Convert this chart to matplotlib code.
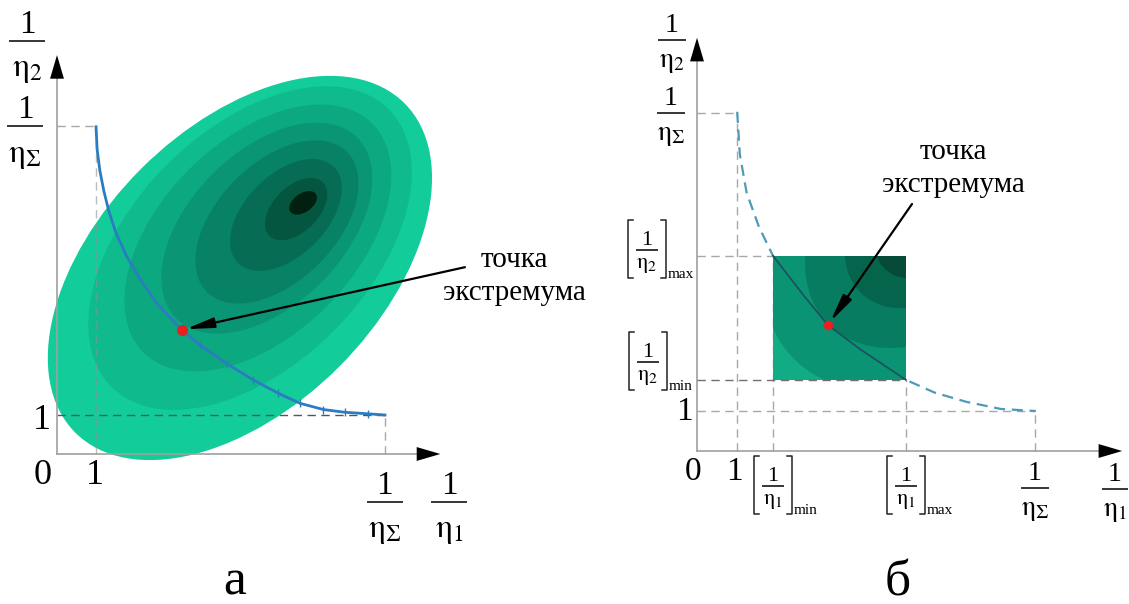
import matplotlib.pyplot as plt
from matplotlib.patches import Ellipse, Rectangle

plt.rcParams['font.family'] = ['Liberation Serif', 'DejaVu Serif']
plt.rcParams['mathtext.fontset'] = 'stix'

# ---- panel a: values in units of 1/eta ----
inv_sum_a = 8.4
curve_a_x = [1.0, 1.03, 1.10, 1.2, 1.32, 1.5, 1.79, 2.15, 2.56, 3.2, 3.67, 4.35, 5.03,
             5.67, 6.23, 6.83, 7.38, 7.98, 8.41]
curve_a_y = [8.39, 7.8, 7.26, 6.75, 6.26, 5.7, 5.06, 4.45, 3.86, 3.18, 2.79, 2.32, 1.90,
             1.56, 1.30, 1.14, 1.07, 1.03, 1.0]
tick_idx_a = [10, 11, 12, 13, 14, 15, 16, 17]
extremum_a = (3.2, 3.18)

# contour rings, outer -> inner
ring_cx = [4.69, 4.95, 5.15, 5.38, 5.64, 5.87, 6.13, 6.31]
ring_cy = [4.77, 5.28, 5.54, 5.79, 5.95, 6.13, 6.28, 6.44]
ring_a = [5.97, 5.03, 4.15, 3.28, 2.54, 1.74, 0.97, 0.40]
ring_b = [3.59, 3.02, 2.49, 1.97, 1.52, 1.04, 0.58, 0.24]
ring_colors = ["#12cc9a", "#0fbb8d", "#0ca880", "#0a9674", "#088265", "#066d54",
               "#045640", "#02200f"]

# ---- panel b ----
inv_sum_b = 8.45
curve_b_x = [1.005, 1.07, 1.24, 1.55, 1.9, 2.69, 3.27, 4.10, 5.22, 5.94, 6.73, 7.6, 8.47]
curve_b_y = [8.48, 7.42, 6.46, 5.60, 4.88, 3.86, 3.15, 2.53, 1.78, 1.46, 1.23, 1.05, 1.0]
x1_min, x1_max = 1.9, 5.22
x2_min, x2_max = 1.78, 4.88
extremum_b = (3.275, 3.15)

field_center = (5.7, 5.575)
field_a = [4.63, 3.41, 2.28, 1.43]
field_colors = ["#0a9474", "#077c61", "#05644c", "#044a37"]
field_base = "#11ab84"

axis_col = "#a0a0a0"
dash_col = "#a8a8a8"
dash = (0, (6, 4))


def frac_at(ax, k, x, y, sub, fs, bar, gn, gd):
    # k = pixels per data unit
    ax.plot([x - bar / 2 / k, x + bar / 2 / k], [y, y], color='black', lw=1.1,
            solid_capstyle='butt', clip_on=False)
    ax.text(x, y + gn / k, '1', fontsize=fs, ha='center', va='baseline')
    ax.text(x, y - gd / k, r'$\mathrm{\eta}_{%s}$' % sub, fontsize=fs, ha='center', va='top')


def bracket_at(ax, k, x, y, sub, lim):
    frac_at(ax, k, x, y, sub, 16, 22, 5, 6)
    hw, top, bot, t = 19 / k, 30 / k, 28 / k, 5 / k
    ax.plot([x - hw + t, x - hw, x - hw, x - hw + t], [y + top, y + top, y - bot, y - bot],
            color='#222222', lw=1.1)
    ax.plot([x + hw - t, x + hw, x + hw, x + hw - t], [y + top, y + top, y - bot, y - bot],
            color='#222222', lw=1.1)
    ax.text(x + hw + 2 / k, y - bot, lim, fontsize=11, ha='left', va='baseline')


def draw_axes(ax, xtip, ytip):
    ax.plot([0, xtip - 0.3], [0, 0], color=axis_col, lw=1.2, zorder=5)
    ax.plot([0, 0], [0, ytip - 0.3], color=axis_col, lw=1.2, zorder=5)
    head = dict(arrowstyle='-|>,head_length=0.85,head_width=0.25', color='black',
                lw=0, mutation_scale=20)
    ax.annotate('', xy=(xtip, 0), xytext=(xtip - 0.5, 0), arrowprops=head, zorder=6)
    ax.annotate('', xy=(0, ytip), xytext=(0, ytip - 0.5), arrowprops=head, zorder=6)


fig = plt.figure(figsize=(11.29, 6.04), dpi=100)

# ================= panel a =================
ka = 39
ax1 = fig.add_axes([0, 0, 560 / 1129, 1])
ax1.set_xlim(-57 / ka, 503 / ka)
ax1.set_ylim(-150 / ka, 454 / ka)
ax1.axis('off')

for i in range(len(ring_a)):
    ang = 35 if i == len(ring_a) - 1 else 45
    ax1.add_patch(Ellipse((ring_cx[i], ring_cy[i]), 2 * ring_a[i], 2 * ring_b[i],
                          angle=ang, facecolor=ring_colors[i], edgecolor='none', zorder=2))

ax1.plot([0, 1], [inv_sum_a, inv_sum_a], ls=dash, color=dash_col, lw=1, zorder=1)
ax1.plot([1, 1], [0, inv_sum_a], ls=dash, color="#909090", lw=1, alpha=0.6, zorder=3)
ax1.plot([0, inv_sum_a], [1, 1], ls=dash, color="#555555", lw=1, zorder=3)
ax1.plot([inv_sum_a, inv_sum_a], [0, 1], ls=dash, color=dash_col, lw=1, zorder=3)
draw_axes(ax1, 9.9, 10.3)

ax1.plot(curve_a_x, curve_a_y, color="#2b7cc0", lw=2, marker='|', markersize=6,
         markevery=tick_idx_a, zorder=7)
ax1.plot(*extremum_a, 'o', color="#e82020", markersize=7, zorder=9)
ax1.annotate('', xy=extremum_a, xytext=(10.46, 4.79),
             arrowprops=dict(arrowstyle='-|>,head_length=1.2,head_width=0.22', color='black',
                             lw=1.6, mutation_scale=14, shrinkA=0, shrinkB=3), zorder=8)
ax1.text(11.74, 4.97, 'точка', fontsize=21, ha='center', va='center')
ax1.text(11.74, 4.13, 'экстремума', fontsize=21, ha='center', va='center')

frac_at(ax1, ka, -0.77, 10.59, '2', 24, 36, 8, 14)
frac_at(ax1, ka, -0.82, 8.41, r'\Sigma', 24, 36, 8, 14)
frac_at(ax1, ka, inv_sum_a, -1.23, r'\Sigma', 24, 36, 8, 14)
frac_at(ax1, ka, 10.05, -1.23, '1', 24, 36, 8, 14)
ax1.text(-0.38, 0.87, '1', fontsize=26, ha='center', va='center')
ax1.text(-0.36, -0.54, '0', fontsize=26, ha='center', va='center')
ax1.text(0.97, -0.54, '1', fontsize=26, ha='center', va='center')
ax1.text(4.56, -3.6, 'а', fontsize=37, ha='center', va='baseline')

# ================= panel b =================
kb = 40
ax2 = fig.add_axes([565 / 1129, 0, 564 / 1129, 1])
ax2.set_xlim(-132 / kb, 432 / kb)
ax2.set_ylim(-153 / kb, 451 / kb)
ax2.axis('off')
ax2.patch.set_alpha(0)

ax2.plot([0, 1], [inv_sum_b, inv_sum_b], ls=dash, color=dash_col, lw=1, zorder=1)
ax2.plot([1, 1], [0, inv_sum_b], ls=dash, color=dash_col, lw=1, zorder=1)
ax2.plot([0, x1_min], [x2_max, x2_max], ls=dash, color=dash_col, lw=1, zorder=1)
ax2.plot([x1_min, x1_min], [0, x2_max], ls=dash, color=dash_col, lw=1, zorder=1)
ax2.plot([x1_max, x1_max], [0, x2_min], ls=dash, color=dash_col, lw=1, zorder=1)
ax2.plot([0, inv_sum_b], [1, 1], ls=dash, color=dash_col, lw=1, zorder=1)
ax2.plot([inv_sum_b, inv_sum_b], [0, 1], ls=dash, color=dash_col, lw=1, zorder=1)
ax2.plot([0, x1_max], [x2_min, x2_min], ls=dash, color="#707070", lw=1, zorder=6)
draw_axes(ax2, 10.7, 10.4)

ax2.plot(curve_b_x, curve_b_y, ls=(0, (5, 3)), color="#4f9ab8", lw=1.6, zorder=2)

rect = Rectangle((x1_min, x2_min), x1_max - x1_min, x2_max - x2_min,
                 facecolor=field_base, edgecolor='none', zorder=3)
ax2.add_patch(rect)
for a, c in zip(field_a, field_colors):
    e = Ellipse(field_center, 2 * a, 2 * a * 0.74, angle=45, facecolor=c,
                edgecolor='none', zorder=4)
    ax2.add_patch(e)
    e.set_clip_path(rect)

inside = [i for i, x in enumerate(curve_b_x) if x1_min <= x <= x1_max]
ax2.plot([curve_b_x[i] for i in inside], [curve_b_y[i] for i in inside],
         color="#1f4d5c", lw=1.2, zorder=7)
ax2.plot(*extremum_b, 'o', color="#e82020", markersize=6, zorder=9)
ax2.annotate('', xy=extremum_b, xytext=(5.375, 6.175),
             arrowprops=dict(arrowstyle='-|>,head_length=1.2,head_width=0.22', color='black',
                             lw=1.6, mutation_scale=14, shrinkA=0, shrinkB=3), zorder=8)
ax2.text(6.4, 7.475, 'точка', fontsize=21, ha='center', va='center')
ax2.text(6.4, 6.65, 'экстремума', fontsize=21, ha='center', va='center')

frac_at(ax2, kb, -0.625, 10.275, '2', 20, 28, 8, 10)
frac_at(ax2, kb, -0.65, inv_sum_b, r'\Sigma', 20, 28, 8, 10)
frac_at(ax2, kb, inv_sum_b, -0.925, r'\Sigma', 20, 28, 8, 10)
frac_at(ax2, kb, 10.45, -0.95, '1', 20, 26, 8, 10)
bracket_at(ax2, kb, -1.25, 5.025, '2', 'max')
bracket_at(ax2, kb, -1.225, 2.225, '2', 'min')
bracket_at(ax2, kb, x1_min, -0.875, '1', 'min')
bracket_at(ax2, kb, x1_max, -0.875, '1', 'max')
ax2.text(-0.325, 0.975, '1', fontsize=24, ha='center', va='center')
ax2.text(-0.1, -0.525, '0', fontsize=24, ha='center', va='center')
ax2.text(0.925, -0.525, '1', fontsize=24, ha='center', va='center')
ax2.text(5.025, -3.6, 'б', fontsize=37, ha='center', va='baseline')

fig.savefig('out.png', dpi=100)
